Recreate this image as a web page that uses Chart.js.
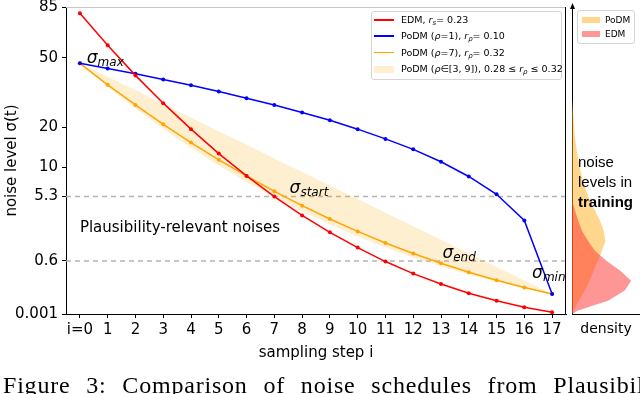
<!DOCTYPE html>
<html>
<head>
<meta charset="utf-8">
<title>noise schedules</title>
<script src="https://cdn.jsdelivr.net/npm/chart.js@4.4.1/dist/chart.umd.min.js"></script>
<style>
  body { margin: 0; width: 640px; height: 394px; overflow: hidden; position: relative; background: #fff; font-family: "DejaVu Sans", sans-serif; color: #000; }
  canvas { position: absolute; top: 0; }
  #main { left: 0; }
  #side { left: 568px; }
  .note { position: absolute; white-space: nowrap; transform: translateY(-50%); line-height: 1; }
  .sig { font-style: italic; font-size: 17px; }
  .sig sub { font-size: 12px; vertical-align: -3px; }
  .plain { font-size: 15px; }
  #legend { position: absolute; left: 371px; top: 11px; width: 191px; height: 69px; box-sizing: border-box; border: 1px solid #d4d4d4; border-radius: 3px; background: rgba(255,255,255,0.85); font-size: 9.5px; }
  .row { position: absolute; left: 0; height: 16px; line-height: 16px; white-space: nowrap; }
  .row sub { font-size: 7px; vertical-align: -2px; }
  .key { position: absolute; left: 2px; width: 20px; }
  .txt { position: absolute; left: 29px; }
  #sideLegend { position: absolute; left: 577px; top: 10px; width: 58px; height: 34px; box-sizing: border-box; border: 1px solid #d4d4d4; border-radius: 3px; background: #fff; font-size: 9px; }
  #sideLegend .key { left: 4px; width: 18px; height: 6px; top: 5px; }
  #sideLegend .txt { left: 27px; }
  #train { position: absolute; left: 578px; top: 152px; font-family: "Liberation Sans", sans-serif; font-size: 15px; line-height: 20px; }
  #caption { position: absolute; left: 3px; top: 373px; font-family: "Liberation Serif", serif; font-size: 24px; line-height: 24px; white-space: nowrap; letter-spacing: 0.8px; word-spacing: 9px; }
</style>
</head>
<body>
<canvas id="main" width="570" height="394"></canvas>
<canvas id="side" width="72" height="394"></canvas>
<div id="legend"></div>
<div id="sideLegend"></div>
<div id="train">noise<br>levels in<br><b>training</b></div>
<div id="caption">Figure 3: Comparison of noise schedules from Plausibility-relevant</div>
<script>
Chart.defaults.font.family = "'DejaVu Sans', sans-serif";
Chart.defaults.color = '#000';

// sampling steps
var steps = [0, 1, 2, 3, 4, 5, 6, 7, 8, 9, 10, 11, 12, 13, 14, 15, 16, 17];
var stepLabels = ['i=0', '1', '2', '3', '4', '5', '6', '7', '8', '9', '10', '11', '12', '13', '14', '15', '16', '17'];

// noise level sigma at each step
var edmSigma = [80, 57.6, 40.7, 28.4, 19.4, 12.9, 8.4, 5.3, 3.24, 1.92, 1.09, 0.58, 0.295, 0.14, 0.06, 0.023, 0.0075, 0.002];
var podm1Sigma = [47, 44.2, 41.5, 38.7, 36.0, 33.2, 30.4, 27.7, 24.9, 22.2, 19.4, 16.6, 13.9, 11.1, 8.3, 5.6, 2.8, 0.055];
var podm7Sigma = [47, 36.2, 27.7, 20.9, 15.6, 11.5, 8.4, 6.0, 4.22, 2.92, 1.98, 1.31, 0.85, 0.53, 0.32, 0.187, 0.104, 0.055];
var bandRho3 = [47, 40.0, 33.7, 28.1, 23.1, 18.8, 15.1, 11.8, 9.1, 6.85, 5.0, 3.5, 2.35, 1.48, 0.855, 0.437, 0.184, 0.055];
var bandRho9 = [47, 35.4, 26.4, 19.5, 14.3, 10.3, 7.37, 5.2, 3.61, 2.47, 1.66, 1.10, 0.71, 0.45, 0.28, 0.168, 0.098, 0.055];

var sigmaTicks = [85, 50, 20, 10, 5.3, 0.6, 0.001];
var sigmaTickLabels = ['85', '50', '20', '10', '5.3', '0.6', '0.001'];
var plausibleBounds = [5.3, 0.6];

// training noise histogram (right panel)
var trainSigma = [30, 25, 20, 16, 13, 11, 9, 7.5, 6, 4.8, 3.7, 2.8, 2.0, 1.4, 0.95, 0.6, 0.35, 0.18, 0.08, 0.023, 0.01, 0.003, 0.001];
var podmDensity = [0, 0.015, 0.03, 0.05, 0.075, 0.10, 0.13, 0.16, 0.21, 0.26, 0.34, 0.41, 0.47, 0.49, 0.44, 0.38, 0.32, 0.26, 0.19, 0.10, 0.06, 0.02, 0];
var edmDensity = [0, 0, 0, 0, 0, 0, 0, 0, 0, 0.01, 0.045, 0.09, 0.15, 0.24, 0.34, 0.51, 0.71, 0.87, 0.78, 0.53, 0.30, 0.08, 0];

var legendLabels = [
    'EDM, <i>r</i><sub><i>s</i></sub>= 0.23',
    'PoDM (<i>ρ</i>=1), <i>r</i><sub><i>ρ</i></sub>= 0.10',
    'PoDM (<i>ρ</i>=7), <i>r</i><sub><i>ρ</i></sub>= 0.32',
    'PoDM (<i>ρ</i>∈[3, 9]), 0.28 ≤ <i>r</i><sub><i>ρ</i></sub> ≤ 0.32'
];

var notes = [
    { step: 0.25, sigma: 50, cls: 'sig', html: 'σ<sub>max</sub>' },
    { step: 7.55, sigma: 6.4, cls: 'sig', html: 'σ<sub>start</sub>' },
    { step: 13.05, sigma: 0.86, cls: 'sig', html: 'σ<sub>end</sub>' },
    { step: 16.28, sigma: 0.31, cls: 'sig', html: 'σ<sub>min</sub>' },
    { step: 0, sigma: 2.31, cls: 'plain', html: 'Plausibility-relevant noises' }
];

var bandColor = 'rgba(255,165,0,0.18)';
var podmFill = 'rgba(255,175,25,0.5)';
var edmFill = 'rgba(255,45,45,0.5)';

// the y axis is linear in sigma^(1/3)
function ys(s) {
    return Math.cbrt(s);
}

function pts(arr) {
    return steps.map(function (x, i) { return { x: x, y: ys(arr[i]) }; });
}

function series(label, arr, color) {
    return {
        label: label, data: pts(arr), borderColor: color, backgroundColor: color,
        borderWidth: 1.5, pointRadius: 2, pointBorderWidth: 0, pointBackgroundColor: color, fill: false
    };
}

function guide(s) {
    return {
        label: '', data: [{ x: -0.5, y: ys(s) }, { x: 17.5, y: ys(s) }],
        borderColor: '#b4b4b4', borderWidth: 1.5, borderDash: [5, 4], pointRadius: 0, fill: false
    };
}

var spines = {
    id: 'spines',
    afterDraw: function (chart) {
        var a = chart.chartArea, ctx = chart.ctx;
        ctx.save();
        ctx.lineWidth = 1;
        ctx.strokeStyle = '#c8c8c8';
        ctx.beginPath(); ctx.moveTo(a.left, a.top + 0.5); ctx.lineTo(a.right, a.top + 0.5); ctx.stroke();
        ctx.strokeStyle = '#000';
        ctx.beginPath(); ctx.moveTo(a.right - 0.5, a.top); ctx.lineTo(a.right - 0.5, a.bottom); ctx.stroke();
        ctx.restore();
    }
};

var mainChart = new Chart(document.getElementById('main'), {
    type: 'line',
    data: {
        datasets: [
            series('EDM', edmSigma, '#ff0000'),
            series('PoDM (rho=1)', podm1Sigma, '#0000ff'),
            series('PoDM (rho=7)', podm7Sigma, '#ffa500'),
            { label: 'PoDM band', data: pts(bandRho3), fill: '+1', backgroundColor: bandColor, borderColor: 'rgba(0,0,0,0)', borderWidth: 1, pointRadius: 0 },
            { label: '', data: pts(bandRho9), fill: false, borderColor: 'rgba(0,0,0,0)', borderWidth: 1, pointRadius: 0 },
            guide(plausibleBounds[0]),
            guide(plausibleBounds[1])
        ]
    },
    options: {
        responsive: false,
        animation: false,
        devicePixelRatio: 1,
        layout: { padding: { top: 7, right: 4, left: 0, bottom: 32 } },
        plugins: { legend: { display: false }, tooltip: { enabled: false } },
        scales: {
            x: {
                type: 'linear', min: -0.5, max: 17.5,
                grid: { drawOnChartArea: false, drawTicks: true, tickLength: 4, tickColor: '#000' },
                border: { display: true, color: '#000', width: 1 },
                ticks: { autoSkip: false, maxRotation: 0, padding: 3, font: { size: 15 },
                    callback: function (v, i) { return stepLabels[i]; } },
                title: { display: true, text: 'sampling step i', font: { size: 15 }, padding: { top: 0, bottom: 0 } },
                afterBuildTicks: function (s) { s.ticks = steps.map(function (v) { return { value: v }; }); },
                afterFit: function (s) { s.height = 48; s.paddingLeft = 0; s.paddingRight = 0; }
            },
            y: {
                type: 'linear', min: ys(0.001), max: ys(85),
                grid: { drawOnChartArea: false, drawTicks: true, tickLength: 4, tickColor: '#000' },
                border: { display: true, color: '#000', width: 1 },
                ticks: { autoSkip: false, padding: 4, font: { size: 15 },
                    callback: function (v, i) { return sigmaTickLabels[i]; } },
                title: { display: true, text: 'noise level σ(t)', font: { size: 15 }, padding: { top: 3, bottom: 0 } },
                afterBuildTicks: function (s) { s.ticks = sigmaTicks.map(function (v) { return { value: ys(v) }; }); },
                afterFit: function (s) { s.width = 66; s.paddingTop = 0; s.paddingBottom = 0; }
            }
        }
    },
    plugins: [spines]
});

var arrowAxis = {
    id: 'arrowAxis',
    afterDraw: function (chart) {
        var a = chart.chartArea, ctx = chart.ctx;
        var x = a.left + 0.5;
        ctx.save();
        ctx.strokeStyle = '#000';
        ctx.fillStyle = '#000';
        ctx.lineWidth = 1;
        ctx.beginPath(); ctx.moveTo(x, a.top); ctx.lineTo(x, 8); ctx.stroke();
        ctx.beginPath(); ctx.moveTo(x, 3); ctx.lineTo(x - 2.5, 9); ctx.lineTo(x + 2.5, 9); ctx.closePath(); ctx.fill();
        ctx.restore();
    }
};

function densityPts(dens) {
    return trainSigma.map(function (s, i) { return { x: dens[i], y: ys(s) }; });
}

var sideChart = new Chart(document.getElementById('side'), {
    type: 'line',
    data: {
        datasets: [
            { label: 'EDM', data: densityPts(edmDensity), fill: 'origin', backgroundColor: edmFill, borderColor: 'rgba(0,0,0,0)', borderWidth: 1, pointRadius: 0 },
            { label: 'PoDM', data: densityPts(podmDensity), fill: 'origin', backgroundColor: podmFill, borderColor: 'rgba(0,0,0,0)', borderWidth: 1, pointRadius: 0 }
        ]
    },
    options: {
        indexAxis: 'y',
        responsive: false,
        animation: false,
        devicePixelRatio: 1,
        layout: { padding: { top: 7, right: 0, left: 0, bottom: 56 } },
        plugins: { legend: { display: false }, tooltip: { enabled: false } },
        scales: {
            x: {
                type: 'linear', min: 0, max: 1,
                grid: { display: false },
                border: { display: true, color: '#000', width: 1 },
                ticks: { display: false },
                title: { display: true, text: 'density', font: { size: 14 }, padding: { top: 0, bottom: 0 } },
                afterFit: function (s) { s.height = 24; s.paddingLeft = 0; s.paddingRight = 0; }
            },
            y: {
                type: 'linear', min: ys(0.001), max: ys(85),
                grid: { display: false },
                border: { display: true, color: '#000', width: 1 },
                ticks: { display: false },
                afterFit: function (s) { s.width = 4; s.paddingTop = 0; s.paddingBottom = 0; }
            }
        }
    },
    plugins: [arrowAxis]
});

// html legends
function buildLegend() {
    var box = document.getElementById('legend');
    var rowTops = [0, 16, 32.5, 49];
    var html = '';
    for (var i = 0; i < legendLabels.length; i++) {
        var ds = mainChart.data.datasets[i];
        var key;
        if (i < 3) {
            key = '<div class="key" style="top:7.25px;height:1.5px;background:' + ds.borderColor + '"></div>';
        } else {
            key = '<div class="key" style="top:4.5px;height:7px;background:' + ds.backgroundColor + '"></div>';
        }
        html += '<div class="row" style="top:' + rowTops[i] + 'px;width:100%">' + key +
            '<span class="txt">' + legendLabels[i] + '</span></div>';
    }
    box.innerHTML = html;

    var side = document.getElementById('sideLegend');
    var sideItems = [sideChart.data.datasets[1], sideChart.data.datasets[0]];
    var shtml = '';
    for (var j = 0; j < sideItems.length; j++) {
        shtml += '<div class="row" style="top:' + (j * 14 + 1) + 'px;width:100%">' +
            '<div class="key" style="background:' + sideItems[j].backgroundColor + '"></div>' +
            '<span class="txt">' + sideItems[j].label + '</span></div>';
    }
    side.innerHTML = shtml;
}

function placeNotes(chart) {
    var xs = chart.scales.x, yscale = chart.scales.y;
    notes.forEach(function (n) {
        var el = document.createElement('div');
        el.className = 'note ' + n.cls;
        el.innerHTML = n.html;
        el.style.left = xs.getPixelForValue(n.step) + 'px';
        el.style.top = yscale.getPixelForValue(ys(n.sigma)) + 'px';
        document.body.appendChild(el);
    });
}

buildLegend();
placeNotes(mainChart);
</script>
</body>
</html>
